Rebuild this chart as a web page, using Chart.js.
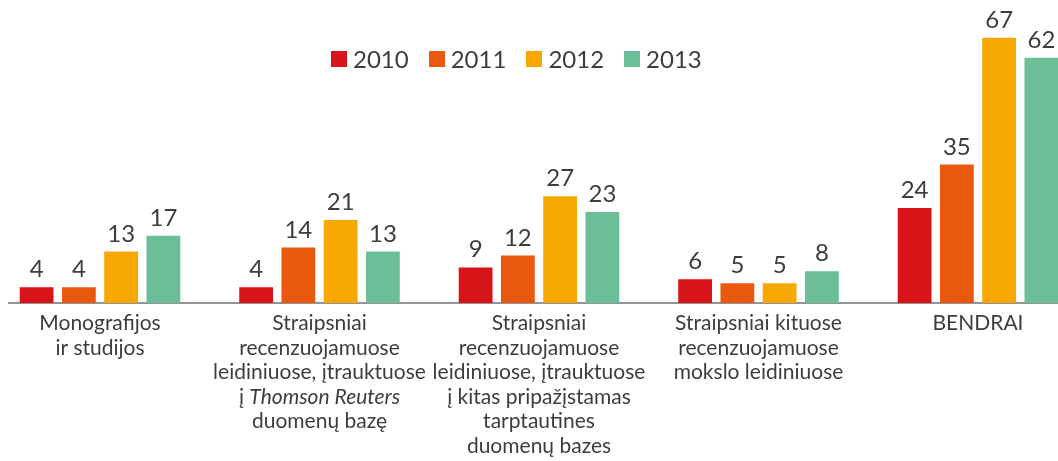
<!DOCTYPE html>
<html lang="lt">
<head>
<meta charset="utf-8">
<script src="https://cdn.jsdelivr.net/npm/chart.js@4.4.1/dist/chart.umd.min.js"></script>
<style>
  html, body { margin: 0; padding: 0; background: #fff; }
  #wrap { position: relative; width: 1058px; height: 461px; }
  #legenda {
    position: absolute; left: 331px; top: 44px;
    display: flex; align-items: center;
    font-family: Lato, "Open Sans", sans-serif; font-size: 24px; color: #3d3d3d;
  }
  .item { display: flex; align-items: center; margin-right: 20px; }
  .box { width: 16px; height: 16px; margin-right: 6px; }
</style>
</head>
<body>
<div id="wrap">
  <canvas id="grafikas" width="1058" height="461"></canvas>
  <div id="legenda"></div>
</div>
<script>
// === Duomenys ===
// kategorijos (eilutes; _tekstas_ = kursyvas)
const kategorijos = [
  ["Monografijos", "ir studijos"],
  ["Straipsniai", "recenzuojamuose", "leidiniuose, įtrauktuose", "į _Thomson Reuters_", "duomenų bazę"],
  ["Straipsniai", "recenzuojamuose", "leidiniuose, įtrauktuose", "į kitas pripažįstamas", "tarptautines", "duomenų bazes"],
  ["Straipsniai kituose", "recenzuojamuose", "mokslo leidiniuose"],
  ["BENDRAI"]
];
const metai = ["2010", "2011", "2012", "2013"];
const spalvos = ["#d7141a", "#e9580c", "#f6a800", "#6abf99"];

const reiksmes2010 = [4, 4, 9, 6, 24];
const reiksmes2011 = [4, 14, 12, 5, 35];
const reiksmes2012 = [13, 21, 27, 5, 67];
const reiksmes2013 = [17, 13, 23, 8, 62];

const FONT = "Lato, 'Open Sans', sans-serif";
const TEKSTO_SPALVA = "#3d3d3d";

// === Legenda (HTML) ===
const legenda = document.getElementById("legenda");
metai.forEach((m, i) => {
  const item = document.createElement("div");
  item.className = "item";
  item.innerHTML = `<span class="box" style="background:${spalvos[i]}"></span><span>${m}</span>`;
  legenda.appendChild(item);
});

// === Pagalbiniai įskiepiai ===
// bazine linija po stulpeliais
const bazineLinija = {
  id: "bazineLinija",
  beforeDatasetsDraw(chart) {
    const ctx = chart.ctx;
    const y0 = chart.scales.y.getPixelForValue(0);
    ctx.save();
    ctx.strokeStyle = "#707070";
    ctx.lineWidth = 1.5;
    ctx.beginPath();
    ctx.moveTo(8, y0);
    ctx.lineTo(chart.width, y0);
    ctx.stroke();
    ctx.restore();
  }
};

// skaiciai virs stulpeliu
const reiksmiuEtiketes = {
  id: "reiksmiuEtiketes",
  afterDatasetsDraw(chart) {
    const ctx = chart.ctx;
    ctx.save();
    ctx.font = `24px ${FONT}`;
    ctx.fillStyle = TEKSTO_SPALVA;
    ctx.textAlign = "center";
    ctx.textBaseline = "alphabetic";
    chart.data.datasets.forEach((ds, i) => {
      chart.getDatasetMeta(i).data.forEach((bar, j) => {
        ctx.fillText(ds.data[j], bar.x, bar.y - 10);
      });
    });
    ctx.restore();
  }
};

// kategoriju pavadinimai po asimi (su kursyvu)
const asiesEtiketes = {
  id: "asiesEtiketes",
  afterDraw(chart) {
    const ctx = chart.ctx;
    const xs = chart.scales.x;
    const y0 = chart.scales.y.getPixelForValue(0);
    const dydis = 21;
    const tarpas = 24.5;
    ctx.save();
    ctx.fillStyle = TEKSTO_SPALVA;
    ctx.textAlign = "left";
    ctx.textBaseline = "alphabetic";
    kategorijos.forEach((eilutes, i) => {
      const cx = xs.getPixelForValue(i);
      eilutes.forEach((eil, k) => {
        const dalys = eil.split("_").map((t, n) => ({ t, italic: n % 2 === 1 }));
        let plotis = 0;
        dalys.forEach(d => {
          ctx.font = `${d.italic ? "italic " : ""}${dydis}px ${FONT}`;
          d.w = ctx.measureText(d.t).width;
          plotis += d.w;
        });
        let x = cx - plotis / 2;
        const y = y0 + 27 + k * tarpas;
        dalys.forEach(d => {
          ctx.font = `${d.italic ? "italic " : ""}${dydis}px ${FONT}`;
          ctx.fillText(d.t, x, y);
          x += d.w;
        });
      });
    });
    ctx.restore();
  }
};

// === Grafikas ===
const serijos = [reiksmes2010, reiksmes2011, reiksmes2012, reiksmes2013];

new Chart(document.getElementById("grafikas").getContext("2d"), {
  type: "bar",
  data: {
    labels: kategorijos,
    datasets: metai.map((m, i) => ({
      label: m,
      data: serijos[i],
      backgroundColor: spalvos[i],
      borderWidth: 0,
      categoryPercentage: 0.77,
      barPercentage: 0.80,
      clip: false
    }))
  },
  options: {
    responsive: false,
    animation: false,
    layout: { padding: { left: 100, right: 80, top: 26, bottom: 150 } },
    plugins: {
      legend: { display: false },
      tooltip: { enabled: false }
    },
    scales: {
      x: {
        offset: false,
        grid: { display: false },
        border: { display: false },
        ticks: { display: false }
      },
      y: {
        display: false,
        min: 0,
        max: 70
      }
    }
  },
  plugins: [bazineLinija, reiksmiuEtiketes, asiesEtiketes]
});
</script>
</body>
</html>
